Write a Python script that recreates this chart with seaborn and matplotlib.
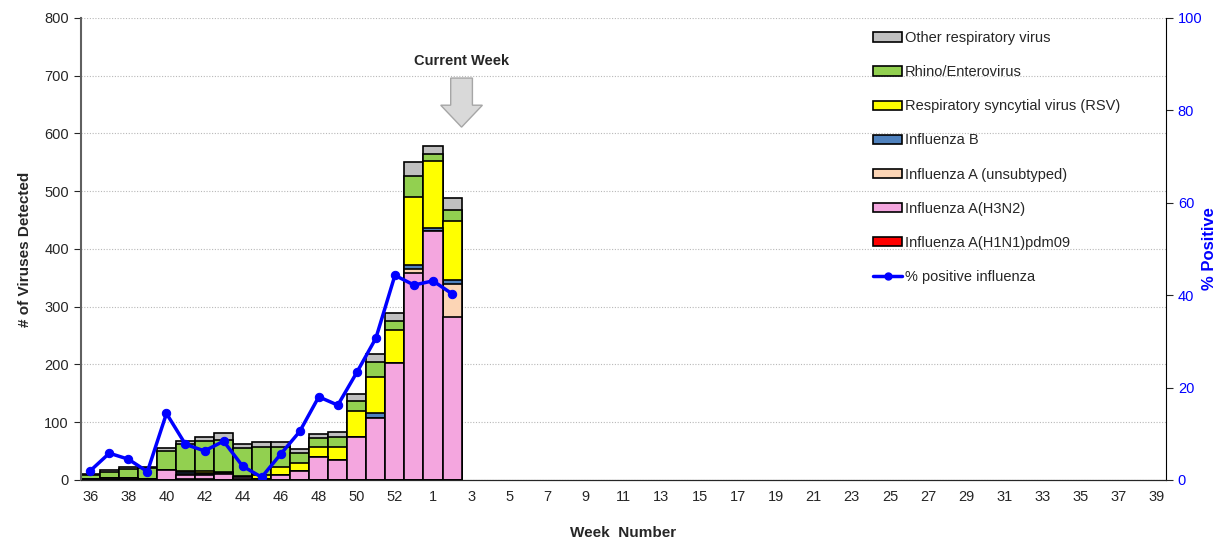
import numpy as np
import pandas as pd
import matplotlib
matplotlib.use("Agg")
import matplotlib.pyplot as plt
import seaborn as sns
from matplotlib.patches import Patch, FancyArrow
from matplotlib.lines import Line2D

# season weeks on the x axis (2014-15 has a week 53)
weeks = [str(w) for w in range(36, 54)] + [str(w) for w in range(1, 40)]
data_weeks = weeks[:18] + ["1", "2"]

# viruses detected per week, bottom layer first
h1n1 = [1, 1, 0, 0, 0, 1, 1, 0, 2, 0, 0, 0, 0, 0, 0, 0, 0, 0, 0, 0]
h3n2 = [1, 2, 2, 2, 17, 8, 8, 11, 4, 1, 9, 16, 39, 35, 74, 107, 202, 358, 431, 282]
unsub = [0, 1, 1, 0, 0, 2, 2, 1, 0, 0, 0, 0, 0, 0, 0, 0, 0, 7, 1, 57]
flu_b = [0, 0, 0, 0, 0, 3, 1, 0, 0, 0, 0, 0, 0, 0, 0, 9, 0, 7, 5, 8]
rsv = [0, 0, 0, 0, 0, 2, 3, 2, 1, 8, 13, 13, 18, 23, 46, 62, 57, 118, 115, 102]
rhino = [6, 10, 16, 18, 34, 47, 52, 56, 48, 49, 36, 18, 16, 16, 17, 27, 17, 36, 13, 18]
other = [2, 3, 4, 2, 5, 4, 8, 12, 8, 7, 7, 6, 7, 9, 12, 13, 13, 24, 14, 21]

# % positive influenza
pct_pos = [2.0, 5.8, 4.5, 1.8, 14.4, 7.7, 6.3, 8.4, 3.0, 0.6, 5.6, 10.5,
           18.0, 16.2, 23.3, 30.7, 44.3, 42.2, 43.1, 40.3]

layers = [
    ("Influenza A(H1N1)pdm09", h1n1, "#FF0000"),
    ("Influenza A(H3N2)", h3n2, "#F4A6DF"),
    ("Influenza A (unsubtyped)", unsub, "#FCD5B5"),
    ("Influenza B", flu_b, "#4F81BD"),
    ("Respiratory syncytial virus (RSV)", rsv, "#FFFF00"),
    ("Rhino/Enterovirus", rhino, "#92D050"),
    ("Other respiratory virus", other, "#C0C0C0"),
]

sns.set_style("white")
plt.rcParams["font.family"] = ["Liberation Sans", "DejaVu Sans"]

fig = plt.figure(figsize=(12.24, 5.42), dpi=100)
ax = fig.add_axes([0.066, 0.1144, 0.8866, 0.8524])

# stacked bars: draw cumulative totals from the top layer down
cum = np.cumsum(np.array([l[1] for l in layers]), axis=0)
for i in reversed(range(len(layers))):
    df = pd.DataFrame({"week": data_weeks, "count": cum[i]})
    sns.barplot(data=df, x="week", y="count", order=weeks, color=layers[i][2],
                saturation=1, errorbar=None, width=1.0, edgecolor="black",
                linewidth=1.2, ax=ax, zorder=2)

ax.set_xlim(-0.5, len(weeks) - 0.5)
ax.set_ylim(0, 800)
ax.set_yticks(range(0, 801, 100))
ax.yaxis.grid(True, linestyle=(0, (1, 1.5)), color="#b8b8b8", linewidth=0.8)
ax.set_axisbelow(True)
ax.set_xticks(range(0, len(weeks), 2))
ax.set_xticklabels(weeks[::2])
ax.set_xticks(np.arange(-0.5, len(weeks), 1), minor=True)
ax.tick_params(axis="x", which="major", length=0, labelsize=10.5, pad=7)
ax.tick_params(axis="x", which="minor", length=5, width=0.8, direction="out")
ax.tick_params(axis="y", length=5, width=0.8, direction="out", left=True, labelsize=10.5)
ax.set_xlabel("Week  Number", fontweight="bold", fontsize=11, labelpad=16)
ax.set_ylabel("# of Viruses Detected", fontweight="bold", fontsize=11, labelpad=9)
for s in ["top", "right"]:
    ax.spines[s].set_visible(False)
ax.spines["left"].set_color("#606060")
ax.spines["left"].set_linewidth(1.5)
ax.spines["bottom"].set_color("black")

# current week marker
ax.add_patch(FancyArrow(19.5, 696, 0, -85, width=1.14, head_width=2.19,
                        head_length=38, length_includes_head=True,
                        facecolor="#D9D9D9", edgecolor="#A6A6A6", lw=1, zorder=3))
ax.text(19.5, 726, "Current Week", ha="center", va="center",
        fontweight="bold", fontsize=10.5)

# % positive line on the right axis
ax2 = ax.twinx()
sns.lineplot(x=np.arange(len(pct_pos)), y=pct_pos, ax=ax2, color="#0000FF",
             linewidth=2.5, marker="o", markersize=6, markeredgecolor="#0000FF")
ax2.set_ylim(0, 100)
ax2.set_yticks(range(0, 101, 20))
ax2.tick_params(axis="y", length=5, width=0.8, direction="out", right=True,
                labelcolor="#0000FF", labelsize=10.5)
ax2.set_ylabel("% Positive", color="#0000FF", fontweight="bold", fontsize=12, labelpad=0)
ax2.set_xlim(-0.5, len(weeks) - 0.5)
for s in ["top", "left"]:
    ax2.spines[s].set_visible(False)
ax2.spines["right"].set_color("black")

handles = [Patch(facecolor=c, edgecolor="black", linewidth=1.2, label=n)
           for n, _, c in reversed(layers)]
handles.append(Line2D([], [], color="#0000FF", lw=2.5, marker="o", markersize=5,
                      label="% positive influenza"))
ax2.legend(handles=handles, loc="upper left", bbox_to_anchor=(0.718, 1.0),
           frameon=False, fontsize=10.5, labelspacing=1.38, handlelength=2.0,
           handleheight=0.6, handletextpad=0.2)

fig.savefig("out.png", dpi=100)
